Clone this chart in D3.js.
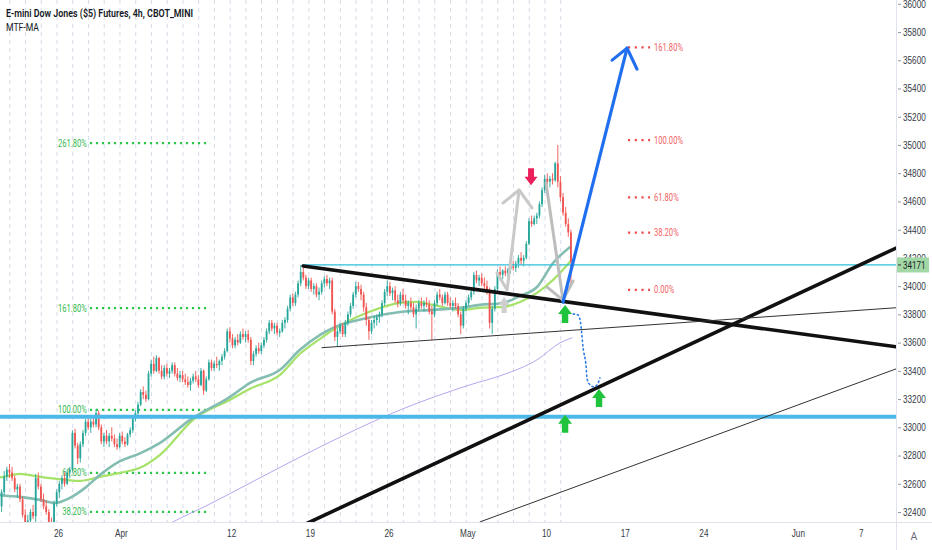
<!DOCTYPE html>
<html>
<head>
<meta charset="utf-8">
<script src="https://cdn.jsdelivr.net/npm/d3@7.9.0/dist/d3.min.js"></script>
<style>
  html, body { margin: 0; padding: 0; background: #fff; }
  svg { display: block; font-family: Roboto, "Liberation Sans", sans-serif; }
</style>
</head>
<body>
<svg id="chart" width="932" height="550"></svg>
<script>
// 4h bars, six per session. Day index 0 = Mar 26, sessions counted on trading days only
const firstDay = -4;
const barsPerDay = 6;

// [open, high, low, close]
const candles = [
  [32560,32600,32500,32540],[32540,32580,32420,32440],[32440,32560,32400,32540],[32540,32690,32520,32650],[32650,32720,32620,32700],[32700,32740,32640,32680],
  [32680,32720,32620,32640],[32640,32660,32540,32560],[32560,32600,32500,32580],[32580,32600,32470,32490],[32490,32510,32360,32380],[32380,32420,32300,32330],
  [32330,32380,32290,32340],[32340,32420,32300,32400],[32400,32450,32350,32370],[32370,32670,32320,32640],[32640,32680,32560,32580],[32580,32600,32470,32490],
  [32490,32530,32420,32440],[32440,32480,32380,32400],[32400,32420,32300,32320],[32320,32360,32280,32300],[32300,32480,32290,32460],[32460,32560,32440,32540],
  [32540,32620,32500,32600],[32600,32660,32560,32640],[32640,32680,32580,32600],[32600,32700,32590,32680],[32680,32720,32640,32700],[32700,32980,32680,32960],
  [32960,32990,32850,32870],[32870,32890,32740,32780],[32780,32900,32750,32880],[32880,32980,32860,32960],[32960,33060,32940,33040],[33040,33080,32980,33000],
  [33000,33060,32960,33040],[33040,33080,33000,33020],[33020,33130,33000,33100],[33100,33120,32980,33000],[33000,33020,32880,32900],[32900,32960,32860,32940],
  [32940,32980,32880,32900],[32900,32960,32860,32940],[32940,33000,32900,32920],[32920,32950,32860,32880],[32880,32920,32840,32860],[32860,32960,32850,32940],
  [32940,32970,32880,32900],[32900,32930,32860,32880],[32880,32960,32870,32950],[32950,33000,32930,32980],[32980,33080,32960,33060],[33060,33120,33040,33100],
  [33100,33180,33080,33160],[33160,33270,33150,33250],[33250,33290,33200,33230],[33230,33260,33180,33200],[33200,33400,33190,33380],[33380,33480,33360,33450],
  [33450,33500,33380,33400],[33400,33510,33390,33490],[33490,33500,33380,33400],[33400,33440,33340,33360],[33360,33440,33340,33420],[33420,33450,33360,33380],
  [33380,33420,33350,33400],[33400,33460,33380,33440],[33440,33460,33360,33380],[33380,33420,33330,33350],[33350,33400,33320,33370],[33370,33400,33320,33340],
  [33340,33380,33300,33320],[33320,33360,33280,33300],[33300,33350,33260,33330],[33330,33380,33310,33360],[33360,33400,33320,33340],[33340,33370,33280,33300],
  [33300,33420,33290,33400],[33400,33410,33230,33260],[33260,33360,33250,33340],[33340,33480,33330,33460],[33460,33480,33400,33420],[33420,33470,33400,33450],
  [33450,33500,33420,33440],[33440,33480,33400,33470],[33470,33520,33440,33500],[33500,33560,33480,33540],[33540,33700,33530,33680],[33680,33710,33600,33630],
  [33630,33660,33560,33580],[33580,33640,33560,33620],[33620,33660,33580,33600],[33600,33680,33590,33660],[33660,33700,33620,33640],[33640,33680,33600,33660],
  [33660,33690,33600,33620],[33620,33640,33440,33470],[33470,33540,33440,33520],[33520,33580,33500,33560],[33560,33600,33520,33540],[33540,33600,33520,33580],
  [33580,33640,33560,33620],[33620,33700,33600,33680],[33680,33760,33660,33740],[33740,33760,33680,33700],[33700,33740,33660,33720],[33720,33740,33650,33670],
  [33670,33700,33640,33680],[33680,33760,33670,33740],[33740,33780,33700,33760],[33760,33860,33740,33840],[33840,33940,33820,33920],[33920,33950,33860,33880],
  [33880,33960,33860,33940],[33940,34040,33920,34020],[34020,34150,34000,34100],[34100,34130,34040,34060],[34060,34080,33980,34000],[34000,34060,33980,34040],
  [34040,34060,33960,33980],[33980,34020,33940,34000],[34000,34020,33920,33940],[33940,33990,33900,33960],[33960,34040,33940,34020],[34020,34070,33990,34050],
  [34050,34080,34000,34020],[34020,34060,33980,34040],[34040,34060,33800,33820],[33820,33840,33610,33640],[33640,33700,33570,33680],[33680,33740,33660,33720],
  [33720,33740,33640,33660],[33660,33760,33640,33740],[33740,33820,33720,33800],[33800,33880,33780,33860],[33860,33960,33840,33940],[33940,34030,33920,34000],
  [34000,34030,33960,33980],[33980,34010,33900,33940],[33940,33960,33820,33850],[33850,33880,33720,33760],[33760,33780,33620,33680],[33680,33760,33660,33740],
  [33740,33790,33700,33760],[33760,33800,33720,33780],[33780,33820,33740,33800],[33800,33900,33780,33880],[33880,33980,33860,33960],[33960,34040,33930,34000],
  [34000,34030,33930,33950],[33950,33990,33900,33970],[33970,34000,33880,33900],[33900,33940,33850,33880],[33880,33960,33860,33940],[33940,33980,33880,33900],
  [33900,33940,33840,33860],[33860,33900,33800,33880],[33880,33920,33830,33850],[33850,33880,33780,33800],[33800,33870,33700,33840],[33840,33900,33820,33880],
  [33880,33920,33840,33860],[33860,33900,33820,33880],[33880,33920,33850,33870],[33870,33900,33800,33820],[33820,33860,33620,33800],[33800,33900,33780,33880],
  [33880,33960,33860,33940],[33940,33980,33900,33920],[33920,33940,33860,33880],[33880,33960,33870,33940],[33940,33960,33860,33880],[33880,33920,33840,33860],
  [33860,33900,33820,33880],[33880,33920,33840,33860],[33860,33880,33780,33800],[33800,33820,33660,33720],[33720,33860,33700,33840],[33840,33900,33820,33880],
  [33880,33940,33860,33920],[33920,33980,33900,33960],[33960,34100,33940,34080],[34080,34110,34020,34040],[34040,34080,34000,34060],[34060,34090,34000,34020],
  [34020,34060,33980,34000],[34000,34040,33940,33960],[33960,33990,33700,33740],[33740,33860,33660,33840],[33840,34000,33820,33980],[33980,34120,33960,34100],
  [34100,34140,34060,34080],[34080,34120,34050,34110],[34110,34140,34070,34090],[34090,34130,34060,34120],[34120,34160,34090,34140],[34140,34180,34110,34130],
  [34130,34180,34100,34160],[34160,34220,34130,34200],[34200,34240,34150,34180],[34180,34220,34140,34200],[34200,34320,34190,34300],[34300,34480,34290,34460],
  [34460,34500,34420,34440],[34440,34500,34430,34480],[34480,34520,34440,34500],[34500,34600,34480,34580],[34580,34700,34560,34680],[34680,34790,34660,34760],
  [34760,34800,34720,34740],[34740,34780,34700,34760],[34760,34800,34720,34750],[34750,34880,34740,34870],[34870,35000,34700,34740],[34740,34780,34600,34630],
  [34630,34660,34500,34520],[34520,34560,34420,34440],[34440,34480,34350,34380],[34380,34400,34000,34171]
];

// moving averages, [day, price]
const tealMA = [[-4,32530],[-3.68,32521],[-2.41,32507],[-1.14,32486],[-0.19,32464],[0.76,32500],[1.72,32571],[2.67,32663],[3.94,32760],[5.21,32815],[6.48,32890],[8.39,33053],[10.93,33216],[12.2,33315],[14.1,33407],[15.37,33549],[16.65,33655],[17.47,33704],[19.63,33775],[21.73,33817],[23.82,33832],[25.54,33846],[26.81,33867],[28.27,33881],[29.35,33931],[30.43,33994],[31.45,34164],[32.53,34278]];
const greenMA = [[-4,32640],[-3.49,32649],[-2.41,32670],[-1.14,32649],[0.57,32627],[1.4,32620],[2.67,32649],[3.94,32677],[5.21,32713],[6.48,32805],[8.58,33053],[10.93,33195],[12.2,33273],[14.1,33372],[15.37,33521],[16.65,33627],[17.47,33691],[19.63,33811],[21.73,33882],[22.81,33888],[23.82,33867],[25.54,33832],[26.81,33846],[28.27,33853],[29.35,33888],[30.43,33952],[31.45,34044],[32.53,34172]];
const purpleMA = [[5.84,32238],[7.31,32330],[9.53,32450],[12.83,32642],[16.65,32861],[21.73,33123],[26.18,33301],[28.27,33372],[30.43,33478],[31.89,33598],[32.66,33634]];

// fibonacci tools
const leftFibLevels = [0.382, 0.618, 1, 1.618, 2.618];
const leftFibPrices = [31955, 33123];   // 0% and 100%
const leftFibDays = [1.9, 9.66];
const rightFibLevels = [0, 0.382, 0.618, 1, 1.618];
const rightFibPrices = [33973, 35035];
const rightFibDays = [36.21, 37.61];

// drawn lines, [day, price]
const neckLine = [[15.57, 34150], [53.3, 34150]];
const baseLine = [[-4.5, 33074], [53.3, 33074]];
const resistanceLine = [[15.57, 34143], [53.24, 33570]];
const supportLine = [[14.5, 32251], [53.24, 34270]];
const triangleLow = [[16.77, 33564], [53.24, 33847]];
const channelLow = [[26.81, 32330], [53.24, 33414]];
const targetArrow = [[32.08, 33887], [36.15, 35686]];
const targetHead = [[35.2, 35601], [36.15, 35686], [36.78, 35537]];
const upSwing = [[27.89, 34094], [28.53, 33973], [29.29, 34681]];
const upSwingHead = [[28.27, 34589], [29.29, 34681], [30.11, 34554]];
const downSwing = [[31.0, 34730], [32.08, 33901]];
const downSwingHead = [[31.07, 33993], [32.08, 33901], [32.72, 34036]];
const retestPath = [[32.72,33803],[33.04,33796],[33.23,33711],[33.35,33570],[33.55,33428],[33.61,33343],[33.8,33300],[34.05,33286],[34.31,33315],[34.43,33350]];
const greenMarkers = [[32.21, 33803], [34.37, 33208], [32.21, 33025]];
const greyMarkers = [[28.34, 33867]];
const redMarkers = [[30.05, 34774]];

const lastPrice = 34171;
const priceTicks = [32400,32600,32800,33000,33200,33400,33600,33800,34000,34200,34400,34600,34800,35000,35200,35400,35600,35800,36000];
const timeTicks = [0, 4, 11, 16, 21, 26, 31, 36, 41, 47, 51];
const timeLabels = ['26', 'Apr', '12', '19', '26', 'May', '10', '17', '24', 'Jun', '7'];

const plotRight = 896, plotBottom = 522;
const x = d3.scaleLinear().domain([0, 31]).range([58, 546]);
const y = d3.scaleLinear().domain([32400, 36000]).range([512, 3.8]);

// the screenshot font is a narrow one, squeeze glyphs to match
function squeeze(sel, f) {
  sel.each(function () {
    const w = this.getComputedTextLength();
    d3.select(this).attr('textLength', w * f).attr('lengthAdjust', 'spacingAndGlyphs');
  });
}

const svg = d3.select('#chart');
svg.append('rect').attr('width', 932).attr('height', 550).attr('fill', '#fff');
svg.append('defs').append('clipPath').attr('id', 'plot')
  .append('rect').attr('width', plotRight).attr('height', plotBottom);
const plot = svg.append('g').attr('clip-path', 'url(#plot)');

// session separators
plot.append('g').selectAll('line')
  .data(d3.range(firstDay, 33))
  .join('line')
  .attr('x1', d => x(d) - 1).attr('x2', d => x(d) - 1)
  .attr('y1', 0).attr('y2', plotBottom)
  .attr('stroke', '#d6dbea').attr('stroke-width', 1)
  .attr('stroke-dasharray', '4,4');

const line = d3.line().x(d => x(d[0])).y(d => y(d[1]));
const smooth = d3.line().x(d => x(d[0])).y(d => y(d[1])).curve(d3.curveMonotoneX);

function drawPath(pts, gen, color, width, dash) {
  plot.append('path').datum(pts)
    .attr('d', gen)
    .attr('fill', 'none')
    .attr('stroke', color)
    .attr('stroke-width', width)
    .attr('stroke-dasharray', dash || null)
    .attr('stroke-linejoin', 'round')
    .attr('stroke-linecap', 'round');
}

// left fib
leftFibLevels.forEach(lvl => {
  const p = leftFibPrices[0] + lvl * (leftFibPrices[1] - leftFibPrices[0]);
  plot.append('line')
    .attr('x1', x(leftFibDays[0]) + 2).attr('x2', x(leftFibDays[1]))
    .attr('y1', y(p)).attr('y2', y(p))
    .attr('stroke', '#2cc64a').attr('stroke-width', 2.2)
    .attr('stroke-dasharray', '2.2,3.8');
  plot.append('text')
    .attr('x', x(leftFibDays[0]) - 1).attr('y', y(p)).attr('dy', '0.35em')
    .attr('text-anchor', 'end')
    .attr('font-size', 10).attr('fill', '#35b94f')
    .text((lvl * 100).toFixed(2) + '%')
    .call(squeeze, 0.76);
});

// right fib
rightFibLevels.forEach(lvl => {
  const p = rightFibPrices[0] + lvl * (rightFibPrices[1] - rightFibPrices[0]);
  plot.append('line')
    .attr('x1', x(rightFibDays[0])).attr('x2', x(rightFibDays[1]))
    .attr('y1', y(p)).attr('y2', y(p))
    .attr('stroke', '#ee4b4b').attr('stroke-width', 2.2)
    .attr('stroke-dasharray', '2.2,4.5');
  plot.append('text')
    .attr('x', x(rightFibDays[1]) + 4).attr('y', y(p)).attr('dy', '0.35em')
    .attr('font-size', 10).attr('fill', '#f06464')
    .text((lvl * 100).toFixed(2) + '%')
    .call(squeeze, 0.76);
});

// moving averages
drawPath(purpleMA, smooth, '#b7a6ee', 1);
drawPath(greenMA, smooth, '#a6e26a', 2.2);
drawPath(tealMA, smooth, '#84bdb1', 2.6);

// candles
const barDay = i => firstDay + (i + 0.5) / barsPerDay;
const up = '#26a69a', down = '#ef5350';
const bars = plot.append('g').selectAll('g').data(candles).join('g');
bars.append('line')
  .attr('x1', (d, i) => x(barDay(i))).attr('x2', (d, i) => x(barDay(i)))
  .attr('y1', d => y(d[1])).attr('y2', d => y(d[2]))
  .attr('stroke', d => d[3] >= d[0] ? up : down).attr('stroke-width', 0.9);
bars.append('rect')
  .attr('x', (d, i) => x(barDay(i)) - 0.9)
  .attr('width', 1.8)
  .attr('y', d => y(Math.max(d[0], d[3])))
  .attr('height', d => Math.max(1, Math.abs(y(d[0]) - y(d[3]))))
  .attr('fill', d => d[3] >= d[0] ? up : down);

// horizontal levels
drawPath(baseLine, line, '#4cb8e8', 4);
drawPath(neckLine, line, '#2cc0da', 1.3);

// trend lines
drawPath(resistanceLine, line, '#111', 3.6);
drawPath(supportLine, line, '#111', 3.6);
drawPath(triangleLow, line, '#333', 1);
drawPath(channelLow, line, '#333', 1);

// swing arrows
drawPath(upSwing, line, '#c9c9c9', 3);
drawPath(upSwingHead, line, '#c9c9c9', 3);
drawPath(downSwing, line, '#bdbdbd', 3);
drawPath(downSwingHead, line, '#bdbdbd', 3);
drawPath(targetArrow, line, '#1f6fef', 3.2);
drawPath(targetHead, line, '#1f6fef', 3.2);
drawPath(retestPath, smooth, '#2f7be8', 1.6, '1.4,3');

// block arrows
function blockArrow(cx, cy, w, h, dir) {
  const hw = w / 2, sw = w * 0.23, hh = h * 0.5;
  const s = dir;  // -1 up, 1 down
  const tip = cy + s * h / 2, neck = tip - s * hh, tail = cy - s * h / 2;
  return `M${cx},${tip}L${cx + hw},${neck}L${cx + sw},${neck}L${cx + sw},${tail}` +
         `L${cx - sw},${tail}L${cx - sw},${neck}L${cx - hw},${neck}Z`;
}
plot.selectAll('.gm').data(greenMarkers).join('path')
  .attr('d', d => blockArrow(x(d[0]), y(d[1]), 14, 18, -1)).attr('fill', '#1fc43c');
plot.selectAll('.gy').data(greyMarkers).join('path')
  .attr('d', d => blockArrow(x(d[0]), y(d[1]), 11, 16, -1)).attr('fill', '#cfcfcf');
plot.selectAll('.rm').data(redMarkers).join('path')
  .attr('d', d => blockArrow(x(d[0]), y(d[1]), 13, 17, 1)).attr('fill', '#ea1f5c');

// axes
svg.append('line').attr('x1', plotRight + 0.5).attr('x2', plotRight + 0.5)
  .attr('y1', 0).attr('y2', 550).attr('stroke', '#e0e3eb');
svg.append('line').attr('x1', 0).attr('x2', 932)
  .attr('y1', plotBottom + 0.5).attr('y2', plotBottom + 0.5).attr('stroke', '#e0e3eb');

const yAxis = svg.append('g').attr('transform', `translate(${plotRight + 2},0)`)
  .call(d3.axisRight(y).tickValues(priceTicks).tickSize(3).tickPadding(2).tickFormat(d3.format('d')));
const xAxis = svg.append('g').attr('transform', `translate(0,${plotBottom})`)
  .call(d3.axisBottom(x).tickValues(timeTicks).tickSize(0).tickPadding(8)
    .tickFormat((d, i) => timeLabels[i]));
[yAxis, xAxis].forEach(g => {
  g.select('.domain').remove();
  g.selectAll('text').attr('font-family', null).attr('font-size', 10.5).attr('fill', '#363a45')
    .call(squeeze, 0.78);
  g.selectAll('line').attr('stroke', '#9598a1');
});

// last price badge
const ly = y(neckLine[0][1]);
svg.append('rect').attr('x', plotRight + 1).attr('y', ly - 7.5).attr('width', 32).attr('height', 15)
  .attr('fill', '#a2d8a6');
svg.append('line').attr('x1', plotRight + 2).attr('x2', plotRight + 5).attr('y1', ly).attr('y2', ly)
  .attr('stroke', '#333');
svg.append('text').attr('x', plotRight + 7).attr('y', ly).attr('dy', '0.35em')
  .attr('font-size', 10.5).attr('fill', '#1b1d22').text(lastPrice)
  .call(squeeze, 0.76);

svg.append('text').attr('x', 914).attr('y', 536).attr('dy', '0.35em').attr('text-anchor', 'middle')
  .attr('font-size', 10.5).attr('fill', '#6a6d78').text('A');

// legend
svg.append('text').attr('x', 6).attr('y', 17).attr('font-size', 11.5).attr('font-weight', 600)
  .attr('fill', '#131722').text('E-mini Dow Jones ($5) Futures, 4h, CBOT_MINI')
  .attr('textLength', 187).attr('lengthAdjust', 'spacingAndGlyphs');
svg.append('text').attr('x', 6).attr('y', 31).attr('font-size', 11)
  .attr('fill', '#131722').text('MTF-MA')
  .attr('textLength', 33).attr('lengthAdjust', 'spacingAndGlyphs');
</script>
</body>
</html>
